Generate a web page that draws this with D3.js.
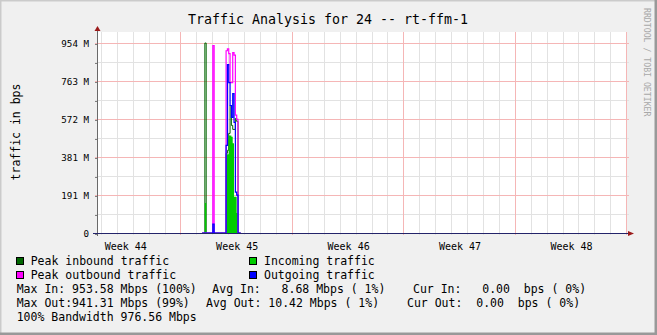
<!DOCTYPE html>
<html>
<head>
<meta charset="utf-8">
<script src="https://cdn.jsdelivr.net/npm/d3@7"></script>
<style>
  html, body { margin: 0; padding: 0; background: #f0f0f0; }
  svg { display: block; font-family: "DejaVu Sans Mono", monospace; }
  text { white-space: pre; }
</style>
</head>
<body>
<div id="chart"></div>
<script>
// ---- data (values in M = 2^20 bps), 2 hour bins starting Nov 9 08:00 ----
const binStart = Date.UTC(2010, 10, 9, 8);
const binHours = 2;
const peakIn   = [0, 0, 953.58, 0, 0, 0, 0, 0, 0,     0, 0, 0, 0, 0, 0, 0, 0, 0, 400, 415, 500, 640, 540, 520, 520, 575, 560, 0, 0];
const incoming = [0, 0, 150,    0, 0, 0, 0, 0, 0,     0, 0, 0, 0, 0, 0, 0, 0, 0, 395, 395, 490, 490, 483, 450, 182, 182, 100, 0, 0];
const peakOut  = [0, 0, 0,      0, 0, 0, 0, 0, 941.31,0, 0, 0, 0, 0, 0, 0, 0, 0, 915, 925, 900, 755, 755, 905, 893, 592, 570, 0, 0];
const outgoing = [0, 0, 0,      0, 0, 0, 0, 0, 45,    0, 0, 0, 0, 0, 0, 0, 0, 0, 440, 845, 755, 640, 580, 700, 555, 205, 190, 0, 0];

// axis ticks
const yTickValues = [0, 190.73, 381.47, 572.2, 762.94, 953.67];
const yTickLabels = ["0", "191 M", "381 M", "572 M", "763 M", "954 M"];
const weekStarts = [Date.UTC(2010, 10, 8), Date.UTC(2010, 10, 15), Date.UTC(2010, 10, 22), Date.UTC(2010, 10, 29), Date.UTC(2010, 11, 6)];
const weekMids = [Date.UTC(2010, 10, 4, 12), Date.UTC(2010, 10, 11, 12), Date.UTC(2010, 10, 18, 12), Date.UTC(2010, 10, 25, 12), Date.UTC(2010, 11, 2, 12)];
const weekLabels = ["Week 44", "Week 45", "Week 46", "Week 47", "Week 48"];

// legend
const legendItems = [
  {name: "Peak inbound traffic",  color: "#006600", col: 0, row: 0},
  {name: "Incoming traffic",      color: "#00cc00", col: 1, row: 0},
  {name: "Peak outbound traffic", color: "#ff00ff", col: 0, row: 1},
  {name: "Outgoing traffic",      color: "#0000ff", col: 1, row: 1}
];
const statLines = [
  ["Max In: 953.58 Mbps (100%)", "Avg In:   8.68 Mbps ( 1%)", "Cur In:   0.00  bps ( 0%)"],
  ["Max Out:941.31 Mbps (99%)",  "Avg Out: 10.42 Mbps ( 1%)", "Cur Out:  0.00  bps ( 0%)"],
  ["100% Bandwidth 976.56 Mbps"]
];

const W = 657, H = 335;
const MARGIN = {left: 97, top: 32, right: 30, bottom: 102};
const plotR = W - MARGIN.right, plotB = H - MARGIN.bottom;

const svg = d3.select('#chart').append('svg')
  .attr('width', W).attr('height', H);

// background + frame shading
svg.append('rect').attr('width', W).attr('height', H).attr('fill', '#f0f0f0');
svg.append('path').attr('d', `M0,${H}V0H${W}`).attr('fill', 'none')
  .attr('stroke', '#cbcbcb').attr('stroke-width', 3);
svg.append('path').attr('d', `M0,${H - 1}H${W - 1}V0`).attr('fill', 'none')
  .attr('stroke', '#999999').attr('stroke-width', 3);

// scales
const x = d3.scaleUtc()
  .domain([new Date(Date.UTC(2010, 10, 2, 18)), new Date(Date.UTC(2010, 11, 6, 1))])
  .range([97.4, 627.4]);
const y = d3.scaleLinear().domain([0, 1009]).range([plotB, MARGIN.top]);

// canvas
svg.append('rect')
  .attr('x', MARGIN.left).attr('y', MARGIN.top)
  .attr('width', plotR - MARGIN.left).attr('height', plotB - MARGIN.top)
  .attr('fill', '#ffffff');

const snap = v => Math.floor(v) + 0.5;
const gridG = svg.append('g').attr('shape-rendering', 'crispEdges');

// minor vertical grid (days)
const days = d3.utcDay.range(x.domain()[0], x.domain()[1]);
gridG.selectAll('line.vmin').data(days).join('line')
  .attr('x1', d => snap(x(d))).attr('x2', d => snap(x(d)))
  .attr('y1', MARGIN.top).attr('y2', plotB + 2)
  .attr('stroke', '#e2e2e2');

// minor horizontal grid
const yMinor = d3.pairs(yTickValues).map(p => (p[0] + p[1]) / 2);
gridG.selectAll('line.hmin').data(yMinor).join('line')
  .attr('x1', MARGIN.left - 2).attr('x2', plotR + 2)
  .attr('y1', d => snap(y(d))).attr('y2', d => snap(y(d)))
  .attr('stroke', '#e2e2e2');

// major vertical grid (weeks)
gridG.selectAll('line.vmaj').data(weekStarts).join('line')
  .attr('x1', d => snap(x(d))).attr('x2', d => snap(x(d)))
  .attr('y1', MARGIN.top).attr('y2', plotB + 2)
  .attr('stroke', '#f5b6b6');

// major horizontal grid
gridG.selectAll('line.hmaj').data(yTickValues.slice(1)).join('line')
  .attr('x1', MARGIN.left - 2).attr('x2', plotR + 2)
  .attr('y1', d => snap(y(d))).attr('y2', d => snap(y(d)))
  .attr('stroke', '#f5b6b6');

// series
const pts = arr => {
  const p = arr.map((v, i) => [binStart + i * binHours * 3600e3, v]);
  p.push([binStart + arr.length * binHours * 3600e3, arr[arr.length - 1]]);
  return p;
};
const line = d3.line().x(d => x(d[0])).y(d => y(d[1])).curve(d3.curveStepAfter);
const area = d3.area().x(d => x(d[0])).y0(y(0)).y1(d => y(d[1])).curve(d3.curveStepAfter);

const dataG = svg.append('g');
dataG.append('path').attr('d', line(pts(peakIn)))
  .attr('fill', 'none').attr('stroke', '#006600').attr('stroke-width', 1);
dataG.append('path').attr('d', area(pts(incoming)))
  .attr('fill', '#00cc00');
dataG.append('path').attr('d', line(pts(peakOut)))
  .attr('fill', 'none').attr('stroke', '#ff00ff').attr('stroke-width', 1.2);
dataG.append('path').attr('d', line(pts(outgoing)))
  .attr('fill', 'none').attr('stroke', '#0000ff').attr('stroke-width', 1.2);

// y axis labels + ticks
const yAxisG = svg.append('g')
  .attr('transform', `translate(${MARGIN.left},0)`)
  .call(d3.axisLeft(y).tickValues(yTickValues).tickFormat((d, i) => yTickLabels[i])
    .tickSize(2).tickPadding(6));
yAxisG.select('.domain').remove();
yAxisG.selectAll('line').attr('stroke', '#808080').attr('shape-rendering', 'crispEdges')
  .attr('transform', 'translate(0,0.5)');
yAxisG.selectAll('text').attr('font-size', '9.2px').attr('fill', '#000')
  .attr('font-family', '"DejaVu Sans Mono", monospace').attr('dy', '0.38em');

const yMinorG = svg.append('g')
  .attr('transform', `translate(${MARGIN.left},0)`)
  .call(d3.axisLeft(y).tickValues(yMinor).tickFormat('').tickSize(2));
yMinorG.select('.domain').remove();
yMinorG.selectAll('line').attr('stroke', '#808080').attr('shape-rendering', 'crispEdges')
  .attr('transform', 'translate(0,0.5)');

// x axis labels
const xAxisG = svg.append('g')
  .attr('transform', `translate(0,${plotB})`)
  .call(d3.axisBottom(x).tickValues(weekMids.map(d => new Date(d)))
    .tickFormat((d, i) => weekLabels[i]).tickSize(0).tickPadding(10));
xAxisG.select('.domain').remove();
xAxisG.selectAll('text').attr('font-size', '10px').attr('fill', '#000')
  .attr('font-family', '"DejaVu Sans Mono", monospace');

// axis lines + arrows
svg.append('line')
  .attr('x1', MARGIN.left + 0.5).attr('x2', MARGIN.left + 0.5)
  .attr('y1', plotB + 3).attr('y2', MARGIN.top - 2)
  .attr('stroke', '#6a6a6a').attr('shape-rendering', 'crispEdges');
svg.append('line')
  .attr('x1', MARGIN.left - 4).attr('x2', plotR + 2)
  .attr('y1', plotB + 0.5).attr('y2', plotB + 0.5)
  .attr('stroke', '#24246a').attr('shape-rendering', 'crispEdges');
svg.append('path')
  .attr('d', `M${MARGIN.left - 2.5},${MARGIN.top - 1}L${MARGIN.left + 3.5},${MARGIN.top - 1}L${MARGIN.left + 0.5},${MARGIN.top - 6}Z`)
  .attr('fill', '#9b1a1a');
svg.append('path')
  .attr('d', `M${plotR + 1},${plotB - 2}L${plotR + 1},${plotB + 3}L${plotR + 7},${plotB + 0.5}Z`)
  .attr('fill', '#9b1a1a');

// title
svg.append('text')
  .attr('x', 328).attr('y', 24.4)
  .attr('text-anchor', 'middle')
  .attr('font-size', '13.3px')
  .text('Traffic Analysis for 24 -- rt-ffm-1');

// vertical unit label
svg.append('text')
  .attr('transform', 'translate(20,132) rotate(-90)')
  .attr('text-anchor', 'middle')
  .attr('font-size', '11.5px')
  .text('traffic in bps');

// watermark
svg.append('text')
  .attr('transform', 'translate(644,8) rotate(90)')
  .attr('font-size', '8.2px')
  .attr('fill', '#a8a8a8')
  .text('RRDTOOL / TOBI OETIKER');

// legend
const legendX = [16, 249.3];
const rowBase = [264.7, 278.7, 292.7, 306.7, 320.7];
const legG = svg.append('g').attr('font-size', '11.5px');
legendItems.forEach(d => {
  legG.append('rect')
    .attr('x', legendX[d.col] + 0.5).attr('y', rowBase[d.row] - 7.5)
    .attr('width', 7).attr('height', 7)
    .attr('fill', d.color).attr('stroke', '#000').attr('stroke-width', 1)
    .attr('shape-rendering', 'crispEdges');
  legG.append('text')
    .attr('x', legendX[d.col] + 14.7).attr('y', rowBase[d.row])
    .text(d.name);
});
const statX = [[16.7, 212.3, 413], [16.7, 206, 407], [16.7]];
statLines.forEach((line, r) => {
  line.forEach((s, j) => {
    legG.append('text')
      .attr('x', statX[r][j]).attr('y', rowBase[r + 2])
      .text(s);
  });
});
</script>
</body>
</html>
